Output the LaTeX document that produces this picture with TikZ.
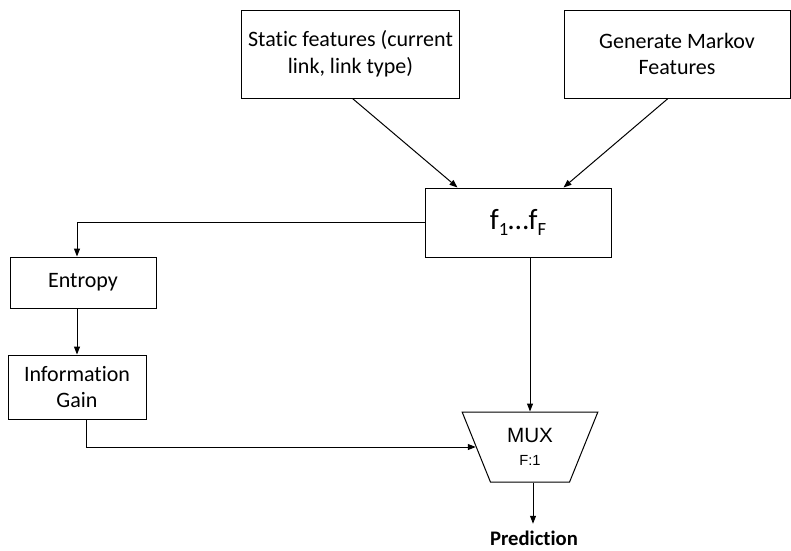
\documentclass[tikz,border=0pt]{standalone}
\usepackage{fontspec}
\setmainfont[Ligatures=NoCommon]{Carlito}
\newfontfamily\arialfont{Liberation Sans}
\usetikzlibrary{arrows.meta}
\usetikzlibrary{shapes.geometric}

\begin{document}
\begin{tikzpicture}[x=0.75pt, y=-0.75pt]
    \tikzstyle{blk} += [draw=black, line width=0.75pt, align=center, inner sep=0pt, font=\fontsize{16.5}{20}\selectfont];
    \tikzstyle{arr} += [-{Triangle[length=6pt,width=4.5pt]}, line width=0.75pt];
    \useasboundingbox (0,0) rectangle (791,550);
    \node (stat) at (350.5,  54) [blk, minimum width=164pt, minimum height=66pt]{Static features (current\\link, link type)};
    \node (gen)  at (677.0,  54) [blk, minimum width=169.5pt, minimum height=66pt]{Generate Markov\\Features};
    \node (f)    at (518.0, 222.5) [blk, minimum width=139.5pt, minimum height=51.75pt, font=\fontsize{22}{24}\selectfont]{f\raisebox{-0.45ex}{\fontsize{14}{14}\selectfont 1}…f\raisebox{-0.45ex}{\fontsize{14}{14}\selectfont F}};
    \node (ent)  at ( 83.0, 282.5) [blk, minimum width=109.5pt, minimum height=38.25pt]{Entropy};
    \node (ig)   at ( 77.0, 387) [blk, minimum width=103.5pt, minimum height=48pt]{Information\\Gain};
    \node (mux)  at (530.0, 447) [blk, trapezium, trapezium stretches=true, trapezium angle=66, shape border rotate=180,
                                 minimum width=102pt, minimum height=52.5pt, font=\arialfont\fontsize{15.5}{17}\selectfont]{MUX\\{\fontsize{11}{13}\selectfont F:1}};
    \node (pred) at (534.0, 538) [font=\fontsize{15.5}{18}\selectfont\bfseries, inner sep=0pt]{Prediction};

    \begin{scope}
      \draw[arr] ([xshift=1.5pt]stat.south) -- ([xshift=24.75pt]f.north west);
      \draw[arr] ([xshift=-6.75pt]gen.south) -- ([xshift=-36pt]f.north east);
      \draw[arr] (f.west) -| (ent.north -| ig.south);
      \draw[arr] (ent.south -| ig.south) -- (ig.north);
      \draw[arr] ([xshift=6.75pt]ig.south) |- (mux);
      \draw[arr] (f.south -| mux.north) -- (mux.north);
      \draw[arr] ([xshift=2.25pt]mux.south) -- ([xshift=2.25pt, yshift=5pt]pred.north -| mux.south);
    \end{scope}
\end{tikzpicture}
\end{document}
